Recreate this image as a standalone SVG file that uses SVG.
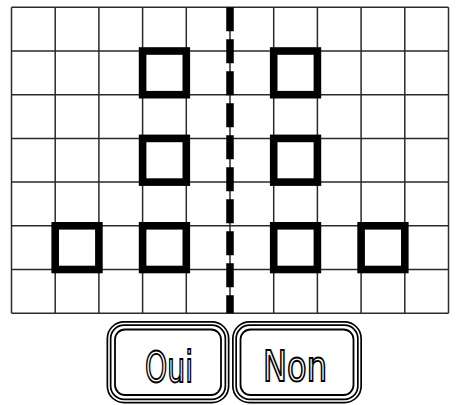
<svg xmlns="http://www.w3.org/2000/svg" width="459" height="405" viewBox="0 0 459 405">
<style>
.g{stroke:#2a2a2a;stroke-width:1.5;fill:none}
.sq{fill:none;stroke:#000;stroke-width:7.6}
.ob{fill:none;stroke:#000;stroke-width:5}
.ow{fill:none;stroke:#fff;stroke-width:1.6}
.ib{fill:none;stroke:#000;stroke-width:1.8}
.t{font-family:"DejaVu Sans Condensed","Liberation Sans",sans-serif;font-size:43px;fill:#fff;stroke:#000;stroke-width:1.8;text-anchor:middle}
</style>
<rect width="459" height="405" fill="#fff"/>
<g id="grid" class="g">
<path d="M11.5 7.3V313.3M55.2 7.3V313.3M98.9 7.3V313.3M142.6 7.3V313.3M186.3 7.3V313.3M230 7.3V313.3M273.7 7.3V313.3M317.4 7.3V313.3M361.1 7.3V313.3M404.8 7.3V313.3M448.5 7.3V313.3"/>
<path d="M11.5 7.3H448.5M11.5 51H448.5M11.5 94.7H448.5M11.5 138.4H448.5M11.5 182.1H448.5M11.5 225.8H448.5M11.5 269.5H448.5M11.5 313.2H448.5"/>
</g>
<g id="squares">
<rect id="sq1" class="sq" x="142.6" y="51" width="43.7" height="43.7"/>
<rect id="sq2" class="sq" x="273.7" y="51" width="43.7" height="43.7"/>
<rect id="sq3" class="sq" x="142.6" y="138.4" width="43.7" height="43.7"/>
<rect id="sq4" class="sq" x="273.7" y="138.4" width="43.7" height="43.7"/>
<rect id="sq5" class="sq" x="55.2" y="225.8" width="43.7" height="43.7"/>
<rect id="sq6" class="sq" x="142.6" y="225.8" width="43.7" height="43.7"/>
<rect id="sq7" class="sq" x="273.7" y="225.8" width="43.7" height="43.7"/>
<rect id="sq8" class="sq" x="361.1" y="225.8" width="43.7" height="43.7"/>
</g>
<g id="divider">
<line x1="230" y1="7.3" x2="230" y2="313.3" stroke="#000" stroke-width="7.5" stroke-dasharray="24 8"/>
</g>
<g id="btn-oui">
<rect class="ob" x="109" y="323.5" width="118" height="77.5" rx="15"/>
<rect class="ow" x="109" y="323.5" width="118" height="77.5" rx="15"/>
<rect class="ib" x="115" y="329.5" width="106" height="65.5" rx="10"/>
<text class="t" x="169" y="381.5" textLength="48" lengthAdjust="spacingAndGlyphs">Oui</text>
</g>
<g id="btn-non">
<rect class="ob" x="234.5" y="323.5" width="125" height="77.5" rx="15"/>
<rect class="ow" x="234.5" y="323.5" width="125" height="77.5" rx="15"/>
<rect class="ib" x="240.5" y="329.5" width="113" height="65.5" rx="10"/>
<text class="t" x="295" y="381" textLength="64" lengthAdjust="spacingAndGlyphs">Non</text>
</g>
</svg>
